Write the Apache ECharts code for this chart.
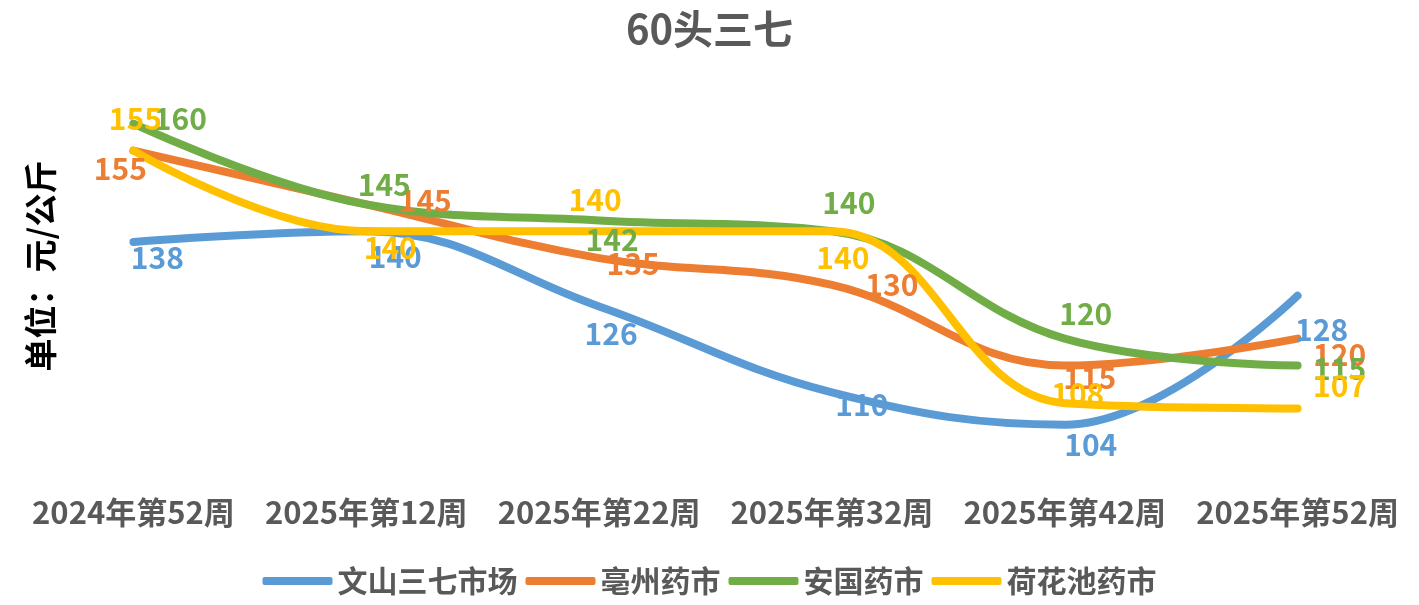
<!DOCTYPE html>
<html>
<head>
<meta charset="utf-8">
<script src="https://cdn.jsdelivr.net/npm/echarts@6/dist/echarts.min.js"></script>
<style>
  html, body { margin: 0; padding: 0; background: #fff; }
  #chart { width: 1419px; height: 605px; }
</style>
</head>
<body>
<div id="chart"></div>
<script>
// categories and series values
const weeks = ["2024年第52周", "2025年第12周", "2025年第22周", "2025年第32周", "2025年第42周", "2025年第52周"];
const wenshan = [138, 140, 126, 110, 104, 128];
const bozhou = [155, 145, 135, 130, 115, 120];
const anguo = [160, 145, 142, 140, 120, 115];
const hehuachi = [155, 140, 140, 140, 108, 107];

// label nudges (px) so labels sit roughly where the original put them
const labelShift = {
  wenshan: [[24, 16], [29, 25], [12, 27], [30, 12], [26, 20], [24, 34]],
  bozhou: [[-13, 18], [59, -4], [34, 6], [60, 0], [25, 12], [42, 16]],
  anguo: [[47, -5], [18, -20], [13, 19], [17, -29], [21, -25], [42, 3]],
  hehuachi: [[2, -32], [24, 16], [-4, -32], [11, 26], [13, -10], [42, -23]]
};

const textGray = "#595959";
const font = "'Noto Sans CJK SC', 'Noto Sans', sans-serif";

function makeSeries(name, values, shift, color) {
  return {
    name: name,
    type: 'line',
    smooth: 0.4,
    symbol: 'circle',
    symbolSize: 0.1,
    showSymbol: true,
    color: color,
    lineStyle: { width: 8, color: color, cap: 'round' },
    labelLayout: function (params) {
      const s = shift[params.dataIndex];
      return { dx: s[0], dy: s[1], hideOverlap: false };
    },
    label: {
      show: true,
      position: 'inside',
      color: color,
      fontSize: 30,
      fontWeight: 600,
      fontFamily: font
    },
    data: values
  };
}

const chart = echarts.init(document.getElementById('chart'));
chart.setOption({
  animation: false,
  title: {
    text: '60头三七',
    left: 'center',
    top: 4,
    textStyle: { fontSize: 40, fontWeight: 'bold', color: textGray, fontFamily: font }
  },
  legend: {
    bottom: 4,
    left: 'center',
    icon: 'roundRect',
    itemWidth: 70,
    itemHeight: 8,
    itemGap: 8,
    textStyle: { fontSize: 30, fontWeight: 'bold', color: textGray, fontFamily: font }
  },
  graphic: [{
    type: 'text',
    x: 40,
    y: 266,
    rotation: Math.PI / 2,
    style: {
      text: '单位：元/公斤',
      fill: '#000',
      font: 'bold 33px ' + font,
      align: 'center',
      verticalAlign: 'middle'
    }
  }],
  grid: { left: 17, right: 5, top: 70, bottom: 132 },
  xAxis: {
    type: 'category',
    data: weeks,
    axisLine: { show: false },
    axisTick: { show: false },
    axisLabel: {
      margin: 24,
      fontSize: 31,
      fontWeight: 'bold',
      color: textGray,
      fontFamily: font,
      interval: 0
    }
  },
  yAxis: {
    type: 'value',
    min: 95,
    max: 170,
    axisLine: { show: false },
    axisTick: { show: false },
    axisLabel: { show: false },
    splitLine: { show: false }
  },
  series: [
    makeSeries('文山三七市场', wenshan, labelShift.wenshan, '#5B9BD5'),
    makeSeries('亳州药市', bozhou, labelShift.bozhou, '#ED7D31'),
    makeSeries('安国药市', anguo, labelShift.anguo, '#70AD47'),
    makeSeries('荷花池药市', hehuachi, labelShift.hehuachi, '#FFC000')
  ]
});
</script>
</body>
</html>
